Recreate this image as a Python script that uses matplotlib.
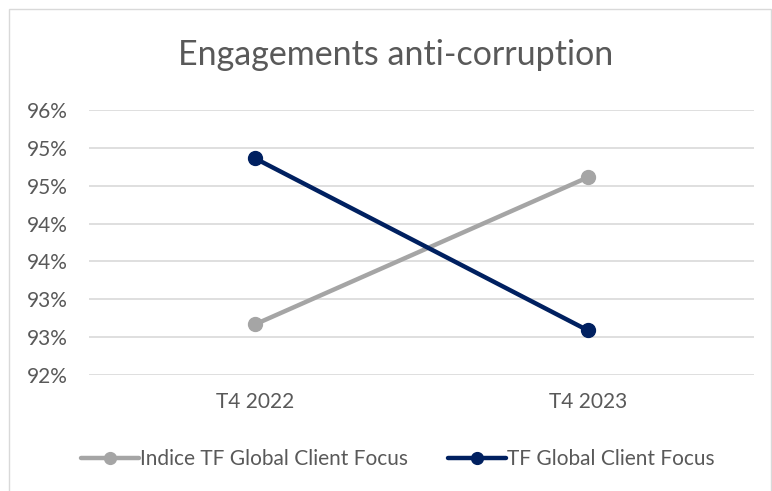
import matplotlib
matplotlib.use("Agg")
import matplotlib.pyplot as plt
from matplotlib.ticker import FuncFormatter, MultipleLocator
from matplotlib.patches import Rectangle

categories = ["T4 2022", "T4 2023"]
indice_tf = [92.67, 94.61]
tf_global = [94.86, 92.59]
series_names = ["Indice TF Global Client Focus", "TF Global Client Focus"]
title = "Engagements anti-corruption"

plt.rcParams['font.family'] = ['Lato', 'DejaVu Sans']
W, H = 772, 491
fig = plt.figure(figsize=(W/100, H/100), dpi=100)
fig.patches.append(Rectangle((9/W, -0.01), (W-10)/W, 1 - 9/H + 0.01, transform=fig.transFigure,
                             fill=False, edgecolor="#d9d9d9", linewidth=1))
ax = fig.add_axes([89/W, 1-375/H, (754-89)/W, (375-110)/H])

x = [0.5, 1.5]
ax.plot(x, indice_tf, color="#a5a5a5", lw=3.2, marker="o", ms=10, label=series_names[0], solid_capstyle="round")
ax.plot(x, tf_global, color="#002060", lw=3.2, marker="o", ms=10, label=series_names[1], solid_capstyle="round")

ax.set_xlim(0, 2)
ax.set_ylim(92, 95.5)
ax.yaxis.set_major_locator(MultipleLocator(0.5))
ax.yaxis.set_major_formatter(FuncFormatter(lambda v, p: f"{int(v + 0.5)}%"))
ax.set_xticks(x)
ax.set_xticklabels(categories)
ax.grid(axis="y", color="#d9d9d9", lw=1.2)
ax.set_axisbelow(True)
for s in ax.spines.values():
    s.set_visible(False)
ax.tick_params(axis="both", length=0, labelsize=15, labelcolor="#595959")
ax.tick_params(axis="y", pad=15)
ax.tick_params(axis="x", pad=12)

fig.text(396/W, 1-55/H, title, ha="center", va="center", fontsize=24.5, color="#595959")

leg = fig.legend(loc="center", bbox_to_anchor=(398/W, 1-459/H), ncol=2, frameon=False,
                 fontsize=15, handlelength=2.8, handletextpad=0.05, columnspacing=1.9,
                 markerscale=0.85)
for t in leg.get_texts():
    t.set_color("#595959")

fig.savefig("out.png", dpi=100)
